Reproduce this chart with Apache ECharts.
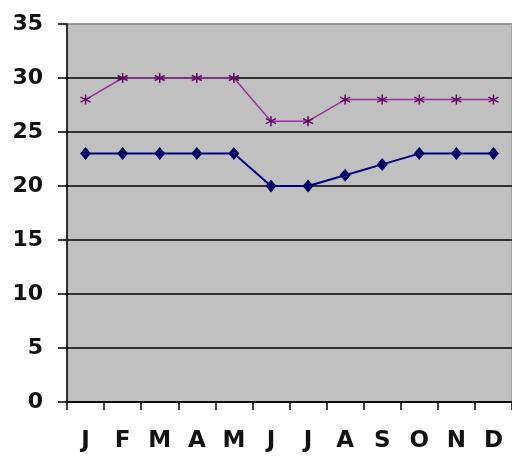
<!DOCTYPE html>
<html><head><meta charset="utf-8">
<script src="https://cdn.jsdelivr.net/npm/echarts@6/dist/echarts.min.js"></script>
<style>html,body{margin:0;padding:0;background:#fff}#c{width:512px;height:456px}</style>
</head><body><div id="c"></div>
<script>
var months = ['J','F','M','A','M','J','J','A','S','O','N','D'];
var upper = [28,30,30,30,30,26,26,28,28,28,28,28];
var lower = [23,23,23,23,23,20,20,21,22,23,23,23];
var yTicks = {min:0, max:35, interval:5};

var asterisk = 'path://M5,0L5,10M0.7,2.5L9.3,7.5M0.7,7.5L9.3,2.5';
var chart = echarts.init(document.getElementById('c'), null, {renderer:'canvas'});
chart.setOption({
  animation:false,
  backgroundColor:'#ffffff',
  grid:{left:67, top:24, width:448, height:378, show:true, backgroundColor:'#c0c0c0', borderColor:'#8a8a8a', borderWidth:1},
  xAxis:{type:'category', data:months, boundaryGap:true,
    axisLine:{lineStyle:{color:'#000', width:1.5}},
    axisTick:{show:true, length:8, lineStyle:{color:'#000', width:1.5}},
    axisLabel:{color:'#111', fontFamily:'DejaVu Sans', fontSize:23, fontWeight:'bold', margin:28}},
  yAxis:{type:'value', min:yTicks.min, max:yTicks.max, interval:yTicks.interval,
    axisLine:{show:true, lineStyle:{color:'#000', width:1.5}},
    axisTick:{show:true, length:9, lineStyle:{color:'#000', width:1.5}},
    splitLine:{show:true, lineStyle:{color:['#000','#000','#000','#000','#000','#000','#000','#8a8a8a'], width:1.5}},
    axisLabel:{color:'#111', fontFamily:'DejaVu Sans', fontSize:22, fontWeight:'bold', margin:24}},
  series:[
    {type:'line', data:upper, symbol:asterisk, symbolSize:10, showSymbol:true,
      lineStyle:{color:'#993399', width:1.5},
      itemStyle:{color:'#660066', borderColor:'#660066', borderWidth:1.5}},
    {type:'line', data:lower, symbol:'diamond', symbolSize:[11,13], showSymbol:true,
      lineStyle:{color:'#000080', width:2},
      itemStyle:{color:'#000066', borderColor:'#000066', borderWidth:0}}
  ]
});
</script></body></html>
